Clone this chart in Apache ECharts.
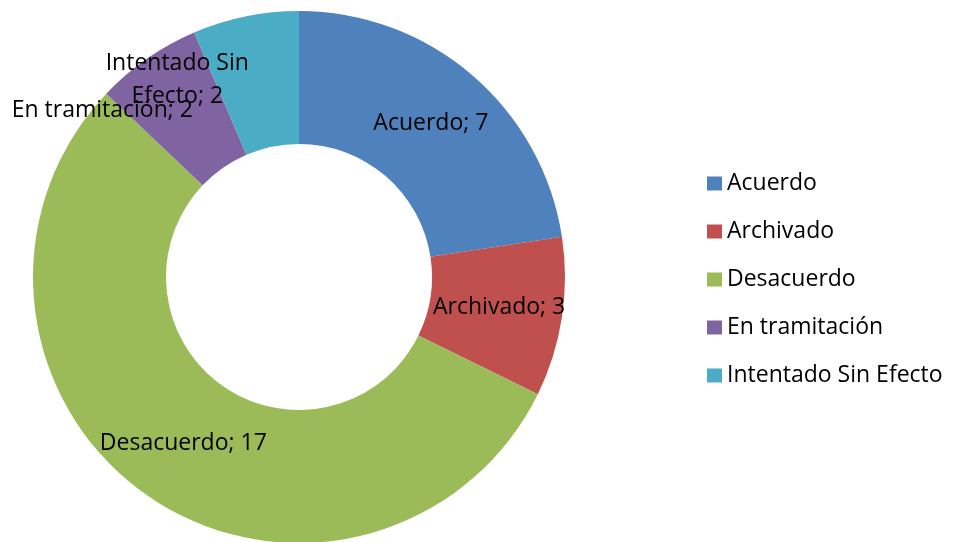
<!DOCTYPE html>
<html>
<head>
<meta charset="utf-8">
<script src="https://cdn.jsdelivr.net/npm/echarts@6/dist/echarts.min.js"></script>
<style>
  html, body { margin: 0; padding: 0; background: #fff; }
  #chart { width: 953px; height: 542px; }
</style>
</head>
<body>
<div id="chart"></div>
<script>
// categorias y valores
var categories = ['Acuerdo', 'Archivado', 'Desacuerdo', 'En tramitación', 'Intentado Sin Efecto'];
var values = [7, 3, 17, 2, 2];
var colors = ['#4F81BD', '#C0504D', '#9BBB59', '#8064A2', '#4BACC6'];

var font = 'Open Sans';

var pieData = [];
for (var i = 0; i < categories.length; i++) {
  var item = { name: categories[i], value: values[i] };
  if (categories[i] === 'En tramitación') {
    item.label = { offset: [-81, 0] };
  }
  if (categories[i] === 'Intentado Sin Efecto') {
    item.label = { offset: [-81, 1], formatter: 'Intentado Sin\nEfecto; {c}' };
  }
  pieData.push(item);
}

var myChart = echarts.init(document.getElementById('chart'));
var option = {
  animation: false,
  color: colors,
  legend: {
    orient: 'vertical',
    left: 702,
    top: 167,
    itemWidth: 15,
    itemHeight: 14,
    itemGap: 25,
    icon: 'rect',
    data: categories,
    textStyle: { fontFamily: font, fontSize: 23, lineHeight: 23, color: '#000' }
  },
  series: [
    {
      type: 'pie',
      center: [299, 277],
      radius: [133, 266],
      startAngle: 90,
      clockwise: true,
      avoidLabelOverlap: false,
      label: {
        show: true,
        position: 'inside',
        formatter: '{b}; {c}',
        fontFamily: font,
        fontSize: 23,
        lineHeight: 33,
        color: '#000'
      },
      labelLayout: { hideOverlap: false },
      labelLine: { show: false },
      emphasis: { disabled: true },
      data: pieData
    }
  ]
};
myChart.setOption(option);
</script>
</body>
</html>
